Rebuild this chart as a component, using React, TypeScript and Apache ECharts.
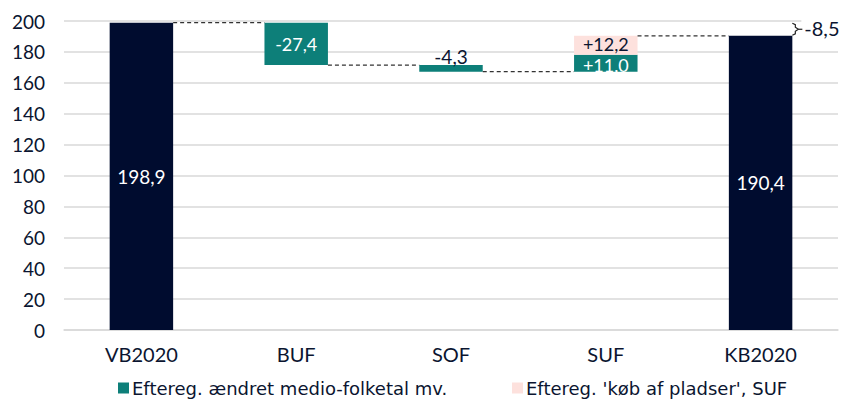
import React, { useEffect, useRef } from "react";
import * as echarts from "echarts";

const categories = ["VB2020", "BUF", "SOF", "SUF", "KB2020"];
const startTotal = 198.9;
const endTotal = 190.4;
const tealChanges: (number | null)[] = [null, -27.4, -4.3, 11.0, null];
const pinkChanges: (number | null)[] = [null, null, null, 12.2, null];
const yTicks = [0, 20, 40, 60, 80, 100, 120, 140, 160, 180, 200];
const legendNames = ["Eftereg. ændret medio-folketal mv.", "Eftereg. 'køb af pladser', SUF"];
const netDiff = -8.5;

const NAVY = "#000c2f";
const TEAL = "#0d7f79";
const PINK = "#fde1dd";
const TEXT = "#0b1530";
const FONT = "Lato, 'Noto Sans', sans-serif";
const LEGEND_FONT = "'DejaVu Sans', sans-serif";

const fmt = (v: number, sign = false) => {
  const s = Math.abs(v).toFixed(1).replace(".", ",");
  if (v < 0) return "-" + s;
  return sign ? "+" + s : s;
};

export default function App() {
  const ref = useRef<HTMLDivElement>(null);
  useEffect(() => {
    if (!ref.current) return;
    const chart = echarts.init(ref.current, undefined, { renderer: "svg" });

    const base: (number | string)[] = [];
    const totals: (number | string)[] = [];
    const levels: number[] = [];
    let running = startTotal;
    categories.forEach((_, i) => {
      if (i === 0) {
        base.push(0);
        totals.push(startTotal);
        levels.push(startTotal);
        return;
      }
      if (i === categories.length - 1) {
        base.push(0);
        totals.push(endTotal);
        levels.push(endTotal);
        return;
      }
      const t = tealChanges[i] ?? 0;
      const p = pinkChanges[i] ?? 0;
      const sum = t + p;
      base.push(sum < 0 ? running + sum : running);
      totals.push("-");
      running += sum;
      levels.push(running);
    });

    const tealData = tealChanges.map((v, i) => {
      if (v === null) return "-";
      const item: any = { value: Math.abs(v) };
      if (i === 2) {
        item.label = { position: "top", color: TEXT, distance: 1, fontSize: 19 };
      }
      if (pinkChanges[i] !== null) {
        item.label = { offset: [0, 1.5] };
      }
      return item;
    });
    const pinkData = pinkChanges.map((v) => (v === null ? "-" : Math.abs(v)));

    const connectors = levels.slice(0, -1).map((lv, i) => [i, lv]);
    const BAR_RATIO = 0.41;

    const legendCommon = {
      top: 374,
      itemWidth: 11,
      itemHeight: 11,
      icon: "rect",
      textStyle: { fontFamily: LEGEND_FONT, fontSize: 18, color: TEXT, padding: [0, 0, 0, -2] },
    };

    chart.setOption({
      animation: false,
      grid: { left: 64, right: 15, top: 21, bottom: 70 },
      legend: [
        { ...legendCommon, data: [legendNames[0]], left: 113 },
        { ...legendCommon, data: [legendNames[1]], left: 507 },
      ],
      xAxis: {
        type: "category",
        data: categories,
        axisTick: { show: false },
        axisLine: { lineStyle: { color: "#d9d9d9", width: 1.5 } },
        axisLabel: { fontFamily: FONT, fontSize: 20, color: TEXT, margin: 14 },
      },
      yAxis: {
        type: "value",
        min: yTicks[0],
        max: yTicks[yTicks.length - 1],
        interval: 20,
        axisLine: { show: false },
        axisTick: { show: false },
        splitLine: { lineStyle: { color: "#d9d9d9", width: 1.5 } },
        axisLabel: { fontFamily: FONT, fontSize: 19, color: TEXT, margin: 19 },
      },
      series: [
        {
          name: "base",
          type: "bar",
          stack: "w",
          barWidth: "41%",
          itemStyle: { color: "transparent" },
          data: base,
          silent: true,
        },
        {
          name: "total",
          type: "bar",
          stack: "w",
          barWidth: "41%",
          itemStyle: { color: NAVY },
          data: totals,
          label: {
            show: true,
            position: "inside",
            color: "#ffffff",
            fontFamily: FONT,
            fontSize: 19,
            formatter: (p: any) => fmt(p.value),
          },
        },
        {
          name: legendNames[0],
          type: "bar",
          stack: "w",
          barWidth: "41%",
          itemStyle: { color: TEAL },
          data: tealData,
          label: {
            show: true,
            position: "inside",
            color: "#ffffff",
            fontFamily: FONT,
            fontSize: 18,
            lineHeight: 15,
            formatter: (p: any) => fmt(tealChanges[p.dataIndex] as number, true),
          },
        },
        {
          name: legendNames[1],
          type: "bar",
          stack: "w",
          barWidth: "41%",
          itemStyle: { color: PINK },
          data: pinkData,
          label: {
            show: true,
            position: "inside",
            offset: [0, -1.5],
            color: TEXT,
            fontFamily: FONT,
            fontSize: 18,
            lineHeight: 15,
            formatter: (p: any) => fmt(pinkChanges[p.dataIndex] as number, true),
          },
        },
        {
          name: "connectors",
          type: "custom",
          silent: true,
          z: 5,
          data: connectors,
          renderItem: (params: any, api: any) => {
            const idx = api.value(0);
            const lv = api.value(1);
            const pt = api.coord([idx, lv]);
            const band = api.size([1, 0])[0];
            const half = (band * BAR_RATIO) / 2;
            return {
              type: "line",
              shape: { x1: pt[0] + half, y1: pt[1], x2: pt[0] + band - half, y2: pt[1] },
              style: { stroke: "#333333", lineWidth: 1.3, lineDash: [4, 3] },
            };
          },
        },
        {
          name: "diff",
          type: "custom",
          silent: true,
          z: 6,
          data: [[categories.length - 1, endTotal, startTotal]],
          renderItem: (params: any, api: any) => {
            const idx = api.value(0);
            const lo = api.coord([idx, api.value(1)]);
            const hi = api.coord([idx, api.value(2)]);
            const band = api.size([1, 0])[0];
            const x = lo[0] + (band * BAR_RATIO) / 2;
            const yT = hi[1];
            const yB = lo[1];
            const yM = (yT + yB) / 2;
            return {
              type: "group",
              children: [
                {
                  type: "rect",
                  shape: { x: x + 9, y: yT - 6, width: 50, height: 20 },
                  style: { fill: "#ffffff" },
                },
                {
                  type: "polyline",
                  shape: {
                    points: [
                      [x, yT + 0.5],
                      [x + 3, yT + 2],
                      [x + 3, yM - 2],
                      [x + 6, yM],
                      [x + 3, yM + 2],
                      [x + 3, yB - 2],
                      [x, yB - 0.5],
                    ],
                  },
                  style: { stroke: "#222222", lineWidth: 1.2, fill: "none" },
                },
                {
                  type: "line",
                  shape: { x1: x + 6, y1: yM, x2: x + 10, y2: yM },
                  style: { stroke: "#222222", lineWidth: 1.2 },
                },
                {
                  type: "text",
                  x: x + 12,
                  y: yM - 1,
                  style: {
                    text: fmt(netDiff),
                    fill: TEXT,
                    font: `20px ${FONT}`,
                    verticalAlign: "middle",
                    align: "left",
                  },
                },
              ],
            };
          },
        },
      ],
    });
    return () => chart.dispose();
  }, []);
  return <div ref={ref} style={{ width: 853, height: 400, position: "absolute", left: 0, top: 0 }} />;
}
